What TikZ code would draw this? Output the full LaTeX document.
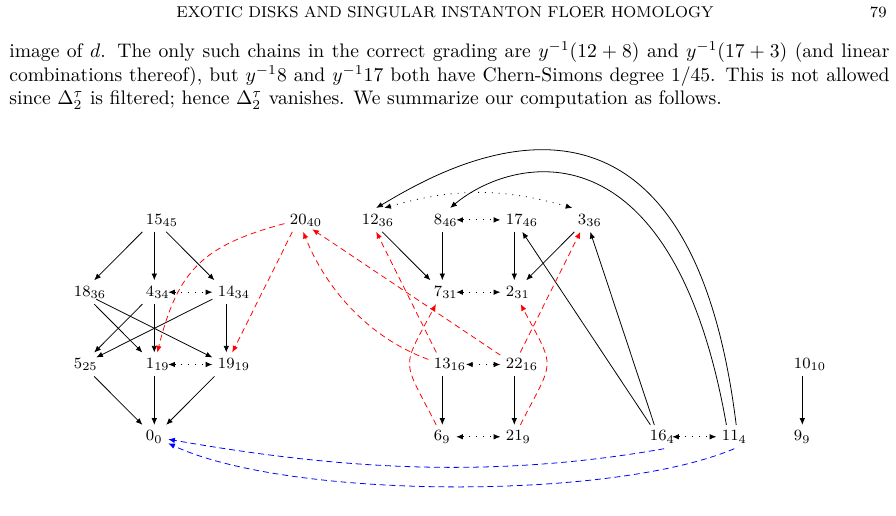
\documentclass[tikz,border=0pt]{standalone}
\usepackage{amsmath,amssymb}
\usepackage{tikz}
\usetikzlibrary{arrows.meta}
\newcommand{\gr}[2]{\rlap{$#1_{#2}$}\phantom{00}}
\tikzset{gen/.style={font=\footnotesize,inner sep=2.67pt,anchor=base},tip/.style={-{Latex[length=3.4pt,width=2.8pt]}},dmap/.style={tip},pairmap/.style={{Latex[length=3.4pt,width=2.8pt]}-{Latex[length=3.4pt,width=2.8pt]},dash pattern=on 0.5pt off 3pt},redmap/.style={tip,red,dash pattern=on 3pt off 2pt},bluemap/.style={tip,blue,dash pattern=on 3pt off 2pt},textline/.style={anchor=base west,inner sep=0pt,text height=6.9pt,text depth=2.4pt}}

\begin{document}
\begin{tikzpicture}[x=0.5102pt,y=-0.5102pt]
 \useasboundingbox (0,0) rectangle (896,515);
 % page head and running text
 \node[anchor=base,font=\footnotesize,inner sep=0pt] (head) at (445,17.4) {EXOTIC DISKS AND SINGULAR INSTANTON FLOER HOMOLOGY};
 \node[anchor=base east,font=\footnotesize,inner sep=0pt] (page) at (887,17.4) {79};
 \node[textline] (line1) at (9,57.7) {\makebox[449pt][s]{image of $d$. The only such chains in the correct grading are $y^{-1}(12+8)$ and $y^{-1}(17+3)$ (and linear}};
 \node[textline] (line2) at (9,81.2) {\makebox[449pt][s]{combinations thereof), but $y^{-1}8$ and $y^{-1}17$ both have Chern-Simons degree $1/45$. This is not allowed}};
 \node[textline] (line3) at (9,104.7) {since $\Delta_2^\tau$ is filtered; hence $\Delta_2^\tau$ vanishes. We summarize our computation as follows.};
 % generators: name/grading/column/row
 \foreach \n/\s/\c/\r in {15/45/2/1,20/40/4/1,12/36/5/1,8/46/6/1,17/46/7/1,3/36/8/1,
   18/36/1/2,4/34/2/2,14/34/3/2,7/31/6/2,2/31/7/2,
   5/25/1/3,1/19/2/3,19/19/3/3,13/16/6/3,22/16/7/3,10/10/11/3,
   0/0/2/4,6/9/6/4,21/9/7/4,16/4/9/4,11/4/10/4,9/9/11/4}
   \node[gen] (g\n) at ({82.3+72*(\c-1)},{224+72.3*(\r-1)}) {\gr{\n}{\s}};
 % differential
 \foreach \a/\b in {15/18,15/4,15/14,18/1,18/19,4/5,4/1,14/5,14/19,5/0,1/0,19/0,
   12/7,8/7,17/2,3/2,13/6,22/21,16/17,16/3,10/9}
   \draw[dmap] (g\a)--(g\b);
 \draw[dmap] ([xshift=3pt]g11.north) to[out=97,in=30,out distance=212pt,in distance=30pt] ([xshift=3pt]g12.north);
 \draw[dmap] ([xshift=-2pt]g11.north) to[out=100,in=40,out distance=159pt,in distance=41pt] ([xshift=4pt]g8.north);
 % pairs
 \foreach \a/\b in {4/14,1/19,8/17,7/2,6/21,16/11}
   \draw[pairmap] (g\a)--(g\b);
 \draw[pairmap] ([xshift=5pt]g13.east)--(g22);
 \draw[pairmap] (g12.north east) to[bend left=16] (g3.north west);
 % red dashed
 \draw[redmap] (g20) to[out=195,in=76,looseness=1.2] (g1);
 \draw[redmap] (g20)--(g19);
 \draw[redmap] (g13) to[out=160,in=-68,looseness=0.9] (g20);
 \draw[redmap] (g22)--(g20);
 \draw[redmap] (g13)--(g12);
 \draw[redmap] (g22)--(g3);
 \draw[redmap] (g6) to[out=117,in=-118,looseness=1.6] (g7);
 \draw[redmap] (g21) to[out=63,in=-62,looseness=1.6] (g2);
 % blue dashed
 \draw[bluemap] ([xshift=3pt]g16.south) to[out=190,in=-10,looseness=0.9] (g0);
 \draw[bluemap] ([xshift=2pt]g11.south) to[out=203,in=-25,looseness=0.6] (g0);
\end{tikzpicture}
\end{document}
